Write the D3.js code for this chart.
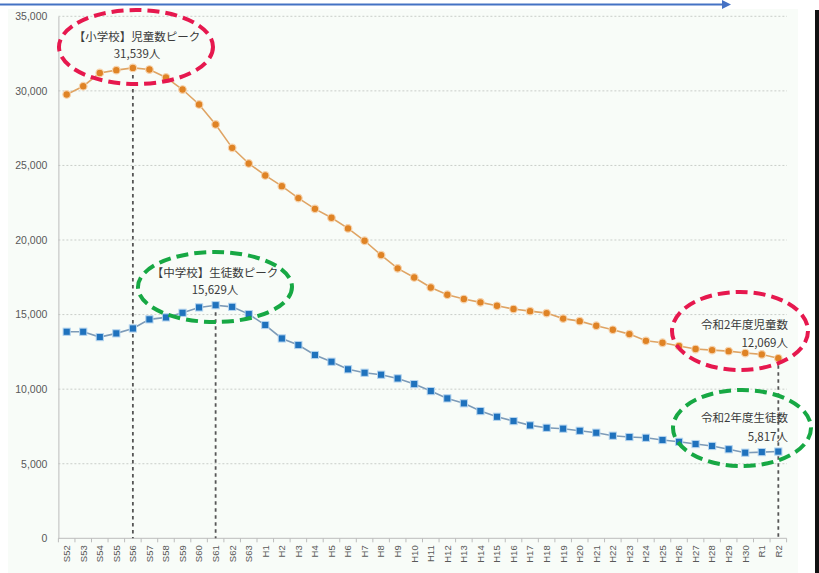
<!DOCTYPE html>
<html>
<head>
<meta charset="utf-8">
<script src="https://cdn.jsdelivr.net/npm/d3@7"></script>
<style>
  body { margin: 0; background: #fff; }
  svg { display: block; }
  text { font-family: "Noto Sans CJK JP", "Noto Sans", sans-serif; }
</style>
</head>
<body>
<div id="graphe"></div>
<script>
// nendo (year) labels
const annees = [
    "S52", "S53", "S54", "S55", "S56", "S57", "S58", "S59", "S60", "S61", "S62", "S63",
    "H1", "H2", "H3", "H4", "H5", "H6", "H7", "H8", "H9", "H10",
    "H11", "H12", "H13", "H14", "H15", "H16", "H17", "H18", "H19", "H20",
    "H21", "H22", "H23", "H24", "H25", "H26", "H27", "H28", "H29", "H30",
    "R1", "R2"
];

// 小学校 児童数
const jidou = [
    29760, 30310, 31200, 31390, 31539, 31430, 30900, 30090, 29090, 27750, 26180, 25130,
    24330, 23610, 22810, 22090, 21490, 20780, 19950, 18990, 18100, 17490,
    16820, 16330, 16040, 15820, 15590, 15370, 15230, 15100, 14730, 14560,
    14250, 13980, 13690, 13240, 13110, 12890, 12690, 12620, 12550, 12420,
    12330, 12069
];

// 中学校 生徒数
const seito = [
    13850, 13850, 13490, 13740, 14070, 14680, 14810, 15120, 15480, 15629, 15520, 15030,
    14300, 13400, 12960, 12290, 11840, 11330, 11100, 10970, 10720, 10340,
    9870, 9380, 9050, 8530, 8150, 7860, 7570, 7410, 7350, 7210,
    7080, 6880, 6790, 6740, 6590, 6470, 6320, 6190, 5970, 5740,
    5780, 5817
];

const graduationsY = [0, 5000, 10000, 15000, 20000, 25000, 30000, 35000];

const largeur = 819, hauteur = 573;

const svg = d3.select("#graphe")
    .append("svg")
    .attr("width", largeur)
    .attr("height", hauteur);

// fond légèrement teinté
svg.append("rect")
    .attr("x", 8).attr("y", 9)
    .attr("width", 790).attr("height", hauteur - 9)
    .attr("fill", "#f8fcf8");

// bord noir à droite
svg.append("rect")
    .attr("x", 815).attr("y", 10)
    .attr("width", 4).attr("height", hauteur - 10)
    .attr("fill", "#111");

// flèche bleue en haut
svg.append("defs").append("marker")
    .attr("id", "pointe")
    .attr("viewBox", "0 0 10 10")
    .attr("refX", 0).attr("refY", 5)
    .attr("markerWidth", 6).attr("markerHeight", 4.5)
    .attr("orient", "auto")
    .append("path")
    .attr("d", "M0,0 L10,5 L0,10 Z")
    .attr("fill", "#4472c4");

svg.append("line")
    .attr("x1", 0).attr("y1", 4.5)
    .attr("x2", 722).attr("y2", 4.5)
    .attr("stroke", "#4472c4")
    .attr("stroke-width", 2)
    .attr("marker-end", "url(#pointe)");

const x = d3.scaleBand()
    .domain(annees)
    .range([58.4, 786.6])
    .paddingInner(0).paddingOuter(0);
const bw = x.bandwidth();
const cx = d => x(d) + bw / 2;

const y = d3.scaleLinear()
    .domain([0, 35000])
    .range([538.3, 16.3]);

// lignes de grille
svg.append("g")
    .selectAll("line")
    .data(graduationsY.filter(v => v > 0))
    .join("line")
    .attr("x1", 58.4).attr("x2", 787)
    .attr("y1", d => y(d)).attr("y2", d => y(d))
    .attr("stroke", "#c9cec9")
    .attr("stroke-dasharray", "2,2");

// axe Y
const axeY = svg.append("g")
    .attr("transform", "translate(58.4,0)")
    .call(d3.axisLeft(y).tickValues(graduationsY).tickSize(0).tickPadding(11)
        .tickFormat(d3.format(",")));
axeY.select(".domain").attr("stroke", "#bcbcbc");
axeY.selectAll("text")
    .attr("fill", "#595959")
    .style("font-size", "10.5px")
    .style("font-family", "'Liberation Sans', sans-serif");

// axe X
const axeX = svg.append("g")
    .attr("transform", "translate(0," + y(0) + ")");
axeX.append("line")
    .attr("x1", 58.4).attr("x2", 786.6)
    .attr("stroke", "#bcbcbc");
axeX.selectAll(".graduation")
    .data(annees.concat(["fin"]))
    .join("line")
    .attr("class", "graduation")
    .attr("x1", (d, i) => 58.4 + i * bw)
    .attr("x2", (d, i) => 58.4 + i * bw)
    .attr("y1", 0).attr("y2", 4)
    .attr("stroke", "#bcbcbc");
axeX.selectAll(".etiquette")
    .data(annees)
    .join("text")
    .attr("class", "etiquette")
    .attr("transform", d => "translate(" + cx(d) + ",7) rotate(-90)")
    .attr("text-anchor", "end")
    .attr("dy", "0.35em")
    .attr("fill", "#595959")
    .style("font-size", "9.5px")
    .style("font-family", "'Liberation Sans', sans-serif")
    .text(d => d);

// lignes verticales pointillées
const reperes = [
    { annee: "S56", valeur: jidou[4] },
    { annee: "S61", valeur: seito[9] },
    { annee: "R2", valeur: jidou[43] }
];
svg.append("g")
    .selectAll("line")
    .data(reperes)
    .join("line")
    .attr("x1", d => cx(d.annee)).attr("x2", d => cx(d.annee))
    .attr("y1", d => y(d.valeur)).attr("y2", y(0))
    .attr("stroke", "#555")
    .attr("stroke-width", 1.8)
    .attr("stroke-dasharray", "3.5,3.5");

// séries
const ligne = d3.line()
    .x((d, i) => cx(annees[i]))
    .y(d => y(d));

svg.append("path")
    .datum(jidou)
    .attr("fill", "none")
    .attr("stroke", "#dfa464")
    .attr("stroke-width", 1.6)
    .attr("d", ligne);

svg.append("path")
    .datum(seito)
    .attr("fill", "none")
    .attr("stroke", "#7d9bb8")
    .attr("stroke-width", 1.6)
    .attr("d", ligne);

svg.append("g")
    .selectAll("circle")
    .data(jidou)
    .join("circle")
    .attr("cx", (d, i) => cx(annees[i]))
    .attr("cy", d => y(d))
    .attr("r", 3.8)
    .attr("fill", "#df8325")
    .attr("stroke", "#f6d3ad")
    .attr("stroke-width", 1.2);

svg.append("g")
    .selectAll("rect")
    .data(seito)
    .join("rect")
    .attr("x", (d, i) => cx(annees[i]) - 3.6)
    .attr("y", d => y(d) - 3.6)
    .attr("width", 7.2).attr("height", 7.2)
    .attr("fill", "#1f72bd")
    .attr("stroke", "#b6d5ef")
    .attr("stroke-width", 1);

// annotations
const annotations = [
    { cx: 136, cy: 47, rx: 77, ry: 37, couleur: "#e6184e", tx: 137, ancre: "middle",
      l1: "【小学校】児童数ピーク", l2: "31,539人", y1: 41, y2: 58 },
    { cx: 215, cy: 287, rx: 77, ry: 35, couleur: "#17a844", tx: 215, ancre: "middle",
      l1: "【中学校】生徒数ピーク", l2: "15,629人", y1: 277, y2: 294 },
    { cx: 740, cy: 331, rx: 68, ry: 39, couleur: "#e6184e", tx: 788, ancre: "end",
      l1: "令和2年度児童数", l2: "12,069人", y1: 329, y2: 347 },
    { cx: 742, cy: 428, rx: 69, ry: 38, couleur: "#17a844", tx: 788, ancre: "end",
      l1: "令和2年度生徒数", l2: "5,817人", y1: 422, y2: 441 }
];

const ann = svg.append("g")
    .selectAll("g")
    .data(annotations)
    .join("g");

ann.append("ellipse")
    .attr("cx", d => d.cx).attr("cy", d => d.cy)
    .attr("rx", d => d.rx).attr("ry", d => d.ry)
    .attr("fill", "none")
    .attr("stroke", d => d.couleur)
    .attr("stroke-width", 4)
    .attr("stroke-dasharray", "12,6");

ann.append("text")
    .attr("x", d => d.tx).attr("y", d => d.y1)
    .attr("text-anchor", d => d.ancre)
    .attr("fill", "#3a3a3a")
    .style("font-size", "11.5px")
    .text(d => d.l1);

ann.append("text")
    .attr("x", d => d.tx).attr("y", d => d.y2)
    .attr("text-anchor", d => d.ancre)
    .attr("fill", "#3a3a3a")
    .style("font-size", "11.5px")
    .text(d => d.l2);
</script>
</body>
</html>
